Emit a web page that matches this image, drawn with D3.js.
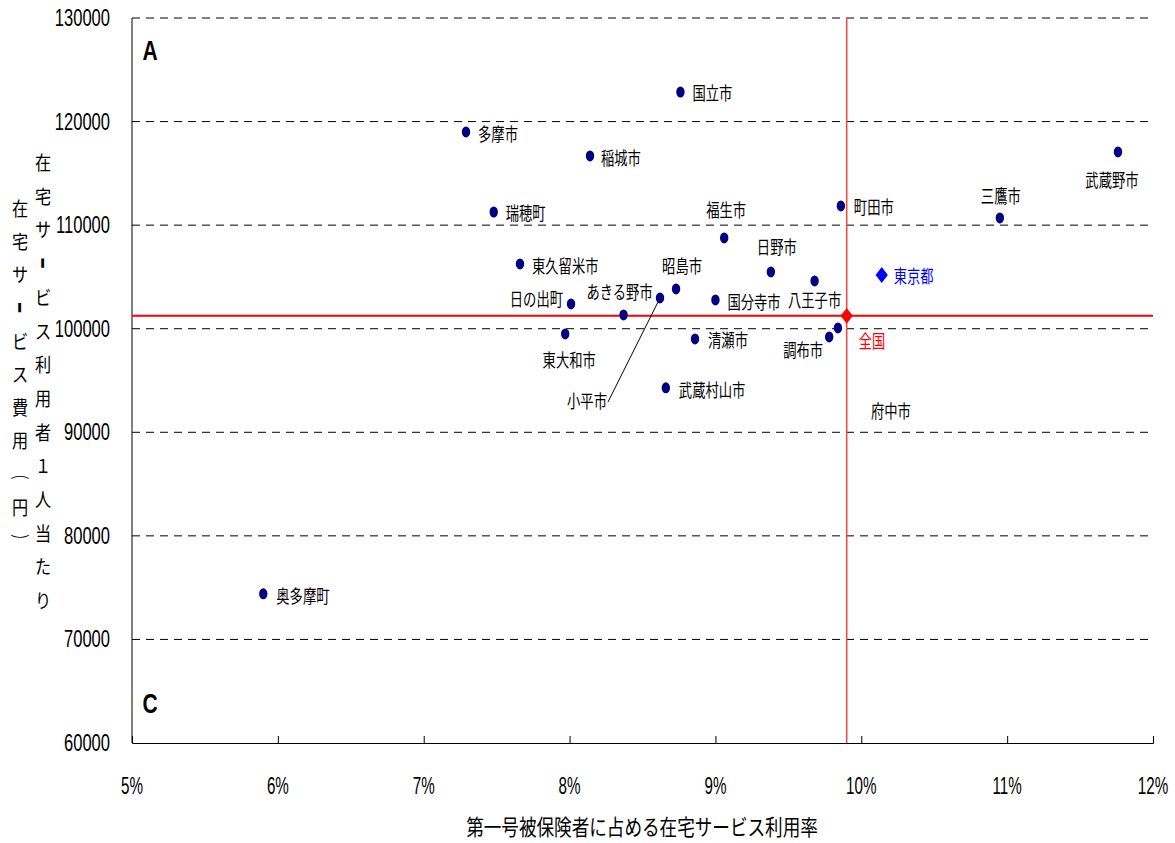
<!DOCTYPE html>
<html>
<head>
<meta charset="utf-8">
<script src="https://cdn.jsdelivr.net/npm/d3@7"></script>
<style>
  body { margin: 0; background: #fff; }
  svg text { font-family: "Liberation Sans", "Noto Sans CJK JP", sans-serif; fill: #000; }
  .jp { font-family: "Noto Sans CJK JP", sans-serif; }
</style>
</head>
<body>
<svg id="chart" width="1175" height="843"></svg>
<script>
// municipalities: share of users (%) and cost per user (yen)
var names = ["国立市", "多摩市", "稲城市", "武蔵野市", "瑞穂町", "町田市", "三鷹市", "福生市",
    "東久留米市", "日野市", "八王子市", "昭島市", "小平市", "国分寺市", "日の出町", "あきる野市",
    "東大和市", "清瀬市", "武蔵村山市", "奥多摩町", "調布市", "府中市"];
var usageRate = [8.76, 7.29, 8.14, 11.76, 7.48, 9.86, 10.95, 9.06,
    7.66, 9.38, 9.68, 8.73, 8.62, 9.00, 8.01, 8.37,
    7.97, 8.86, 8.66, 5.90, 9.78, 9.84];
var costPerUser = [122850, 119000, 116680, 117070, 111270, 111850, 110700, 108760,
    106250, 105480, 104610, 103840, 102970, 102780, 102390, 101330,
    99500, 99010, 94290, 74400, 99210, 100080];

var tokyo = { name: "東京都", rate: 10.14, cost: 105190 };
var national = { name: "全国", rate: 9.90, cost: 101240 };

var xTicks = [5, 6, 7, 8, 9, 10, 11, 12];
var yTicks = [60000, 70000, 80000, 90000, 100000, 110000, 120000, 130000];

// label placement relative to each dot (pixels), same order as names
var labelPos = [
    [12, 1, "start"], [12, 2, "start"], [11, 2, "start"], [-6, 28, "middle"],
    [12, 1, "start"], [13, 1, "start"], [1, -22, "middle"], [2, -28, "middle"],
    [12, 2, "start"], [6, -25, "middle"], [0, 19, "middle"], [6, -23, "middle"],
    [-73, 103, "middle"], [12, 2, "start"], [-8, -5, "end"], [-4, -23, "middle"],
    [4, 26, "middle"], [13, 1, "start"], [13, 2, "start"], [13, 2, "start"],
    [-26, 13, "middle"], [53, 83, "middle"]
];

var svg = d3.select("#chart");
var margin = { left: 132, right: 1153, top: 18, bottom: 743 };

var x = d3.scaleLinear().domain([5, 12]).range([margin.left, margin.right]);
var y = d3.scaleLinear().domain([60000, 130000]).range([margin.bottom, margin.top]);

function addText(g, px, py, str, size, sx, anchor, cls) {
    return g.append("text")
        .attr("class", cls || null)
        .attr("transform", "translate(" + px + "," + py + ") scale(" + sx + ",1)")
        .attr("text-anchor", anchor || "middle")
        .attr("dominant-baseline", "central")
        .style("font-size", size + "px")
        .text(str);
}

// gridlines
svg.append("g").selectAll("line")
    .data(yTicks.filter(function (d) { return d > 60000; }))
    .join("line")
    .attr("x1", margin.left).attr("x2", margin.right)
    .attr("y1", function (d) { return y(d); }).attr("y2", function (d) { return y(d); })
    .attr("stroke", "#000").attr("stroke-width", 1)
    .attr("stroke-dasharray", "8,6");

// axes
var xAxis = svg.append("g").attr("transform", "translate(0," + margin.bottom + ")")
    .call(d3.axisBottom(x).tickValues(xTicks).tickSize(-7).tickFormat(""));
xAxis.select(".domain").attr("stroke", "#000");
xAxis.selectAll(".tick line").attr("stroke", "#000");

svg.append("line")
    .attr("x1", margin.left).attr("x2", margin.left)
    .attr("y1", margin.top).attr("y2", margin.bottom)
    .attr("stroke", "#000").attr("stroke-width", 1);

var tickG = svg.append("g");
yTicks.forEach(function (d) {
    addText(tickG, margin.left - 22, y(d), d, 23, 0.72, "end");
});
xTicks.forEach(function (d) {
    addText(tickG, x(d), 786, d + "%", 23, 0.66, "middle");
});

// national average crosshair
svg.append("line")
    .attr("x1", margin.left).attr("x2", margin.right)
    .attr("y1", y(national.cost)).attr("y2", y(national.cost))
    .attr("stroke", "#ff0000").attr("stroke-width", 2);
svg.append("line")
    .attr("x1", x(national.rate)).attr("x2", x(national.rate))
    .attr("y1", margin.top).attr("y2", margin.bottom)
    .attr("stroke", "#ff4040").attr("stroke-width", 1.5);

// leader line for 小平市
var kodairaIdx = names.indexOf("小平市");
svg.append("line")
    .attr("x1", x(usageRate[kodairaIdx])).attr("y1", y(costPerUser[kodairaIdx]))
    .attr("x2", x(usageRate[kodairaIdx]) - 52).attr("y2", y(costPerUser[kodairaIdx]) + 104)
    .attr("stroke", "#000").attr("stroke-width", 1);

// points
svg.append("g").selectAll("ellipse")
    .data(names)
    .join("ellipse")
    .attr("cx", function (d, i) { return x(usageRate[i]); })
    .attr("cy", function (d, i) { return y(costPerUser[i]); })
    .attr("rx", 4.2).attr("ry", 5.5)
    .attr("fill", "#000080");

var labelG = svg.append("g");
names.forEach(function (d, i) {
    var p = labelPos[i];
    addText(labelG, x(usageRate[i]) + p[0], y(costPerUser[i]) + p[1], d, 18, 0.74, p[2], "jp");
});

// Tokyo and national markers
var diamond = d3.symbol().type(d3.symbolSquare).size(75);
svg.append("path")
    .attr("d", diamond)
    .attr("transform", "translate(" + x(tokyo.rate) + "," + y(tokyo.cost) + ") scale(1,1.3) rotate(45)")
    .attr("fill", "#0000ff");
addText(svg, x(tokyo.rate) + 12, y(tokyo.cost) + 1, tokyo.name, 18, 0.74, "start", "jp").style("fill", "#0000ff");

svg.append("path")
    .attr("d", diamond)
    .attr("transform", "translate(" + x(national.rate) + "," + y(national.cost) + ") scale(1,1.3) rotate(45)")
    .attr("fill", "#ff0000");
addText(svg, x(national.rate) + 12, y(national.cost) + 25, national.name, 18, 0.74, "start", "jp").style("fill", "#ff0000");

// quadrant letters
addText(svg, 150, 50, "A", 28, 0.75, "middle").style("font-weight", "bold");
addText(svg, 150, 703, "C", 28, 0.75, "middle").style("font-weight", "bold");

// axis titles
addText(svg, 642, 826, "第一号被保険者に占める在宅サービス利用率", 22, 0.8, "middle", "jp");

function verticalTitle(str, px, y0, step) {
    var chars = Array.from(str);
    chars.forEach(function (c, i) {
        var t = addText(svg, px, y0 + i * step, c, 19, 0.85, "middle", "jp");
        if (c === "ー" || c === "（" || c === "）") {
            t.attr("transform", "translate(" + px + "," + (y0 + i * step) + ") rotate(90) scale(0.6,1)");
        }
        if (c === "ー") t.style("font-weight", "bold");
    });
}
verticalTitle("在宅サービス利用者１人当たり", 43, 162, 33.7);
verticalTitle("在宅サービス費用（円）", 20, 208, 33.2);
</script>
</body>
</html>
